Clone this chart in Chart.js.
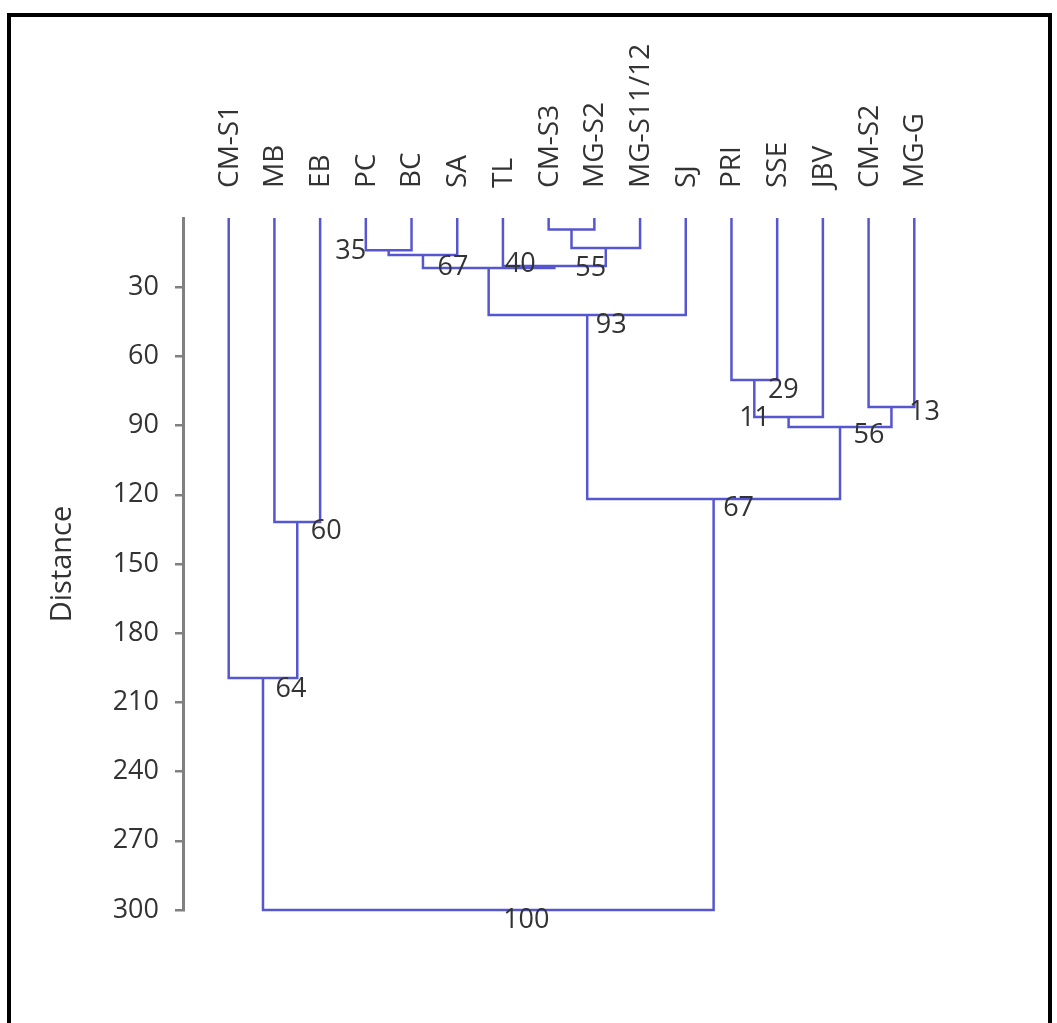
<!DOCTYPE html>
<html>
<head>
<meta charset="utf-8">
<script src="https://cdn.jsdelivr.net/npm/chart.js@4.4.0/dist/chart.umd.min.js"></script>
<style>
  html, body { margin: 0; padding: 0; background: #fff; }
  #wrap { position: relative; width: 1057px; height: 1023px; overflow: hidden; }
  #frame { position: absolute; left: 7px; top: 13px; width: 1037px; height: 1100px; border: 4px solid #000; pointer-events: none; }
  canvas { position: absolute; left: 0; top: 0; }
</style>
</head>
<body>
<div id="wrap">
  <canvas id="dendro" width="1057" height="1023"></canvas>
  <div id="frame"></div>
</div>
<script>
// leaves, left to right
const leafLabels = ["CM-S1", "MB", "EB", "PC", "BC", "SA", "TL", "CM-S3", "MG-S2",
  "MG-S11/12", "SJ", "PRI", "SSE", "JBV", "CM-S2", "MG-G"];

// merge k creates node 16 + k from mergeLeft[k] and mergeRight[k]
const mergeLeft   = [7, 3, 16, 17, 6, 19, 21, 11, 14, 23, 25, 22, 1, 0, 29];
const mergeRight  = [8, 4, 9, 5, 18, 20, 10, 12, 15, 13, 24, 26, 2, 28, 27];
const mergeHeight = [5, 14, 13, 16, 20.8, 21.7, 42, 70.2, 81.9, 86.3, 90.6, 121.8, 131.8, 199.4, 300];
const bootstrap   = [null, 35, 55, 67, 40, null, 93, 29, 13, 11, 56, 67, 60, 64, 100];

const distanceTicks = [30, 60, 90, 120, 150, 180, 210, 240, 270, 300];

// where each bootstrap number sits relative to its node (pixels)
const labelShift = {
  1: [-38, 1], 2: [-15, 20], 3: [30, 12], 4: [-34, -2], 6: [24, 10], 7: [29, 10],
  8: [33, 5], 9: [-34, 1], 10: [29, 8], 11: [25, 9], 12: [29, 9], 13: [28, 11], 14: [38, 10]
};

const textFont = "'Open Sans', sans-serif";
const nLeaves = leafLabels.length;
const nodeX = leafLabels.map((_, i) => i);
const nodeH = leafLabels.map(() => 0);
const segs = [];
mergeLeft.forEach((l, k) => {
  const r = mergeRight[k];
  const h = mergeHeight[k];
  segs.push({ x: nodeX[l], y: nodeH[l] }, { x: nodeX[l], y: h },
            { x: nodeX[r], y: h }, { x: nodeX[r], y: nodeH[r] }, { x: nodeX[r], y: null });
  nodeX.push((nodeX[l] + nodeX[r]) / 2);
  nodeH.push(h);
});

const treeText = {
  id: "treeText",
  afterDatasetsDraw(chart) {
    const { ctx, scales, chartArea } = chart;
    ctx.save();
    ctx.fillStyle = "#333";

    // bootstrap values
    ctx.font = "27px " + textFont;
    ctx.textAlign = "center";
    ctx.textBaseline = "middle";
    bootstrap.forEach((v, k) => {
      if (v === null) return;
      const s = labelShift[k] || [28, 10];
      const px = scales.x.getPixelForValue(nodeX[nLeaves + k]);
      const py = scales.y.getPixelForValue(mergeHeight[k]);
      ctx.fillText(String(v), px + s[0], py + s[1]);
    });

    // leaf names, reading upwards
    ctx.font = "28px " + textFont;
    ctx.textAlign = "left";
    leafLabels.forEach((name, i) => {
      const px = scales.x.getPixelForValue(i);
      ctx.save();
      ctx.translate(px + 1, chartArea.top - 30);
      ctx.rotate(-Math.PI / 2);
      ctx.fillText(name, 0, 0);
      ctx.restore();
    });
    ctx.restore();
  }
};

new Chart(document.getElementById("dendro").getContext("2d"), {
  type: "scatter",
  data: {
    datasets: [{
      data: segs,
      showLine: true,
      spanGaps: false,
      borderColor: "#5656d0",
      borderWidth: 2.5,
      pointRadius: 0,
      clip: false
    }]
  },
  options: {
    responsive: false,
    animation: false,
    layout: { padding: { left: 0, top: 0, right: 97, bottom: 113 } },
    plugins: { legend: { display: false }, tooltip: { enabled: false } },
    scales: {
      x: {
        type: "linear",
        position: "top",
        min: -1,
        max: 16,
        afterFit: (scale) => { scale.height = 218; },
        grid: { display: false, drawTicks: false },
        border: { display: false },
        ticks: { display: false }
      },
      y: {
        type: "linear",
        position: "left",
        reverse: true,
        min: 0,
        max: 300,
        afterBuildTicks: (scale) => { scale.ticks = distanceTicks.map((v) => ({ value: v })); },
        afterFit: (scale) => { scale.width = 183; },
        grid: { drawOnChartArea: false, drawTicks: true, tickLength: 8, color: "#808080", lineWidth: 2.5 },
        border: { display: true, color: "#808080", width: 3 },
        ticks: {
          padding: 16,
          color: "#333",
          font: { family: textFont, size: 27 }
        },
        title: {
          display: true,
          text: "Distance",
          color: "#333",
          font: { family: textFont, size: 29 },
          padding: { top: 45 }
        }
      }
    }
  },
  plugins: [treeText]
});
</script>
</body>
</html>
